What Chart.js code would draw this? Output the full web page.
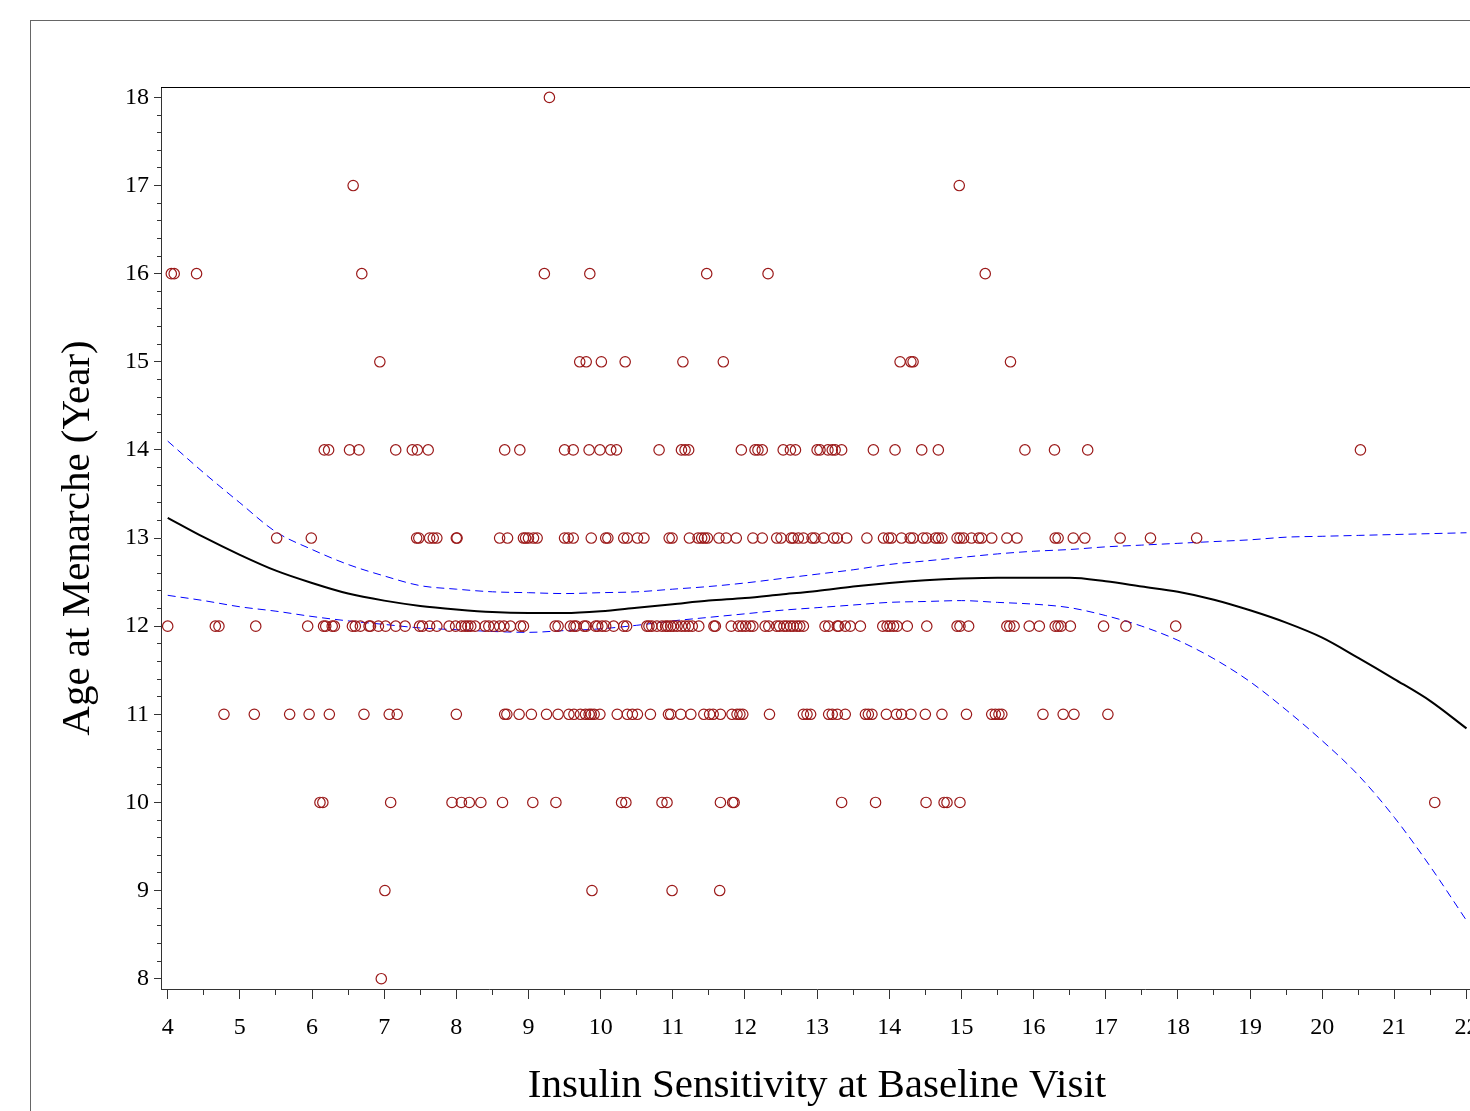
<!DOCTYPE html>
<html lang="en">
<head>
  <meta charset="UTF-8">
  <title>Age at Menarche vs Insulin Sensitivity</title>
  <script src="https://cdn.jsdelivr.net/npm/chart.js"></script>
  <style>
    html, body { margin: 0; padding: 0; background: #fff; overflow: hidden; }
    body { width: 1470px; height: 1111px; position: relative; }
    #frame {
      position: absolute; left: 30px; top: 20px; width: 2000px; height: 2000px;
      border-left: 1px solid #666; border-top: 1px solid #666;
    }
    #graf { position: absolute; left: 0; top: 0; }
  </style>
</head>
<body>
  <div id="frame"></div>
  <canvas id="graf" width="1500" height="1111"></canvas>

  <script>
    /* --- insulin sensitivity of each girl, grouped by age at menarche --- */
    const ages = [8, 9, 10, 11, 12, 13, 14, 15, 16, 17, 18];

    const insulinAt8  = [6.96];
    const insulinAt9  = [7.01, 9.88, 10.99, 11.65];
    const insulinAt10 = [6.11, 6.15, 7.09, 7.94, 8.07, 8.18, 8.34, 8.64, 9.06, 9.38,
                         10.29, 10.35, 10.85, 10.92, 11.66, 11.83, 11.85, 13.34, 13.81,
                         14.51, 14.76, 14.80, 14.98, 21.56];
    const insulinAt11 = [4.78, 5.20, 5.69, 5.96, 6.24, 6.72, 7.07, 7.18, 8.00,
                         8.67, 8.70, 8.87, 9.04, 9.25, 9.41, 9.56, 9.63, 9.72, 9.79, 9.84,
                         9.87, 9.91, 9.99, 10.23, 10.37, 10.44, 10.51, 10.69, 10.94, 10.97,
                         11.11, 11.25, 11.43, 11.51, 11.56, 11.66, 11.82, 11.89, 11.93, 11.97,
                         12.34, 12.81, 12.86, 12.91, 13.16, 13.21, 13.28, 13.39, 13.67, 13.71,
                         13.76, 13.96, 14.10, 14.17, 14.30, 14.50, 14.73, 15.07, 15.42, 15.47,
                         15.52, 15.56, 16.13, 16.41, 16.56, 17.03];
    const insulinAt12 = [4.00, 4.66, 4.71, 5.22, 5.94, 6.16, 6.19, 6.28, 6.31, 6.56,
                         6.60, 6.67, 6.79, 6.81, 6.92, 7.02, 7.16, 7.29, 7.49, 7.53,
                         7.63, 7.73, 7.90, 7.99, 8.07, 8.12, 8.16, 8.20, 8.26, 8.40,
                         8.45, 8.52, 8.60, 8.66, 8.75, 8.89, 8.93, 9.37, 9.41, 9.58,
                         9.63, 9.66, 9.77, 9.80, 9.93, 9.96, 10.02, 10.07, 10.18, 10.32,
                         10.36, 10.64, 10.67, 10.71, 10.78, 10.85, 10.90, 10.93, 10.97, 11.01,
                         11.06, 11.12, 11.17, 11.22, 11.27, 11.36, 11.57, 11.59, 11.81, 11.91,
                         11.96, 12.01, 12.07, 12.11, 12.28, 12.33, 12.44, 12.48, 12.54, 12.58,
                         12.63, 12.67, 12.72, 12.76, 12.81, 13.11, 13.16, 13.28, 13.30, 13.39,
                         13.46, 13.60, 13.91, 13.97, 14.01, 14.06, 14.11, 14.25, 14.52, 14.94,
                         14.98, 15.10, 15.63, 15.67, 15.73, 15.94, 16.08, 16.30, 16.34, 16.38,
                         16.51, 16.97, 17.28, 17.97];
    const insulinAt13 = [5.51, 5.99, 7.45, 7.48, 7.63, 7.68, 7.73, 8.00, 8.01,
                         8.60, 8.71, 8.93, 8.96, 9.00, 9.07, 9.12, 9.50, 9.55, 9.62,
                         9.87, 10.07, 10.10, 10.32, 10.37, 10.51, 10.60, 10.95, 10.99, 11.23,
                         11.35, 11.40, 11.44, 11.48, 11.64, 11.74, 11.88, 12.11, 12.24, 12.44,
                         12.50, 12.64, 12.67, 12.74, 12.81, 12.93, 12.97, 13.09, 13.23, 13.28,
                         13.41, 13.69, 13.92, 13.99, 14.03, 14.17, 14.29, 14.33, 14.47, 14.52,
                         14.64, 14.68, 14.73, 14.94, 14.98, 15.03, 15.14, 15.24, 15.28, 15.42,
                         15.63, 15.77, 16.30, 16.34, 16.55, 16.71, 17.20, 17.62, 18.26];
    const insulinAt14 = [6.17, 6.23, 6.52, 6.65, 7.16, 7.39, 7.46, 7.61,
                         8.67, 8.88, 9.50, 9.62, 9.84, 9.99, 10.14, 10.22, 10.81, 11.12,
                         11.17, 11.22, 11.95, 12.14, 12.18, 12.24, 12.53, 12.63, 12.70,
                         13.00, 13.04, 13.15, 13.21, 13.25, 13.34, 13.78, 14.08, 14.45,
                         14.68, 15.88, 16.29, 16.75, 20.53];
    const insulinAt15 = [6.94, 9.71, 9.80, 10.01, 10.34, 11.14, 11.70, 14.15, 14.30, 14.33, 15.68];
    const insulinAt16 = [4.05, 4.09, 4.40, 6.69, 9.22, 9.85, 11.47, 12.32, 15.33];
    const insulinAt17 = [6.57, 14.97];
    const insulinAt18 = [9.29];

    const insulinByAge = [insulinAt8, insulinAt9, insulinAt10, insulinAt11, insulinAt12,
                          insulinAt13, insulinAt14, insulinAt15, insulinAt16, insulinAt17,
                          insulinAt18];

    /* --- fitted curve and 95% band --- */
    const fitX     = [4, 4.5, 5, 5.5, 6, 6.5, 7, 7.5, 8, 8.5, 9, 9.5, 10, 10.5, 11, 11.5,
                      12, 12.5, 13, 13.5, 14, 14.5, 15, 15.5, 16, 16.5, 17, 17.5, 18, 18.5,
                      19, 19.5, 20, 20.5, 21, 21.5, 22];
    const fitY     = [13.23, 13.01, 12.81, 12.63, 12.49, 12.37, 12.29, 12.23, 12.19, 12.16,
                      12.15, 12.15, 12.17, 12.21, 12.25, 12.29, 12.32, 12.36, 12.40, 12.45,
                      12.49, 12.52, 12.54, 12.55, 12.55, 12.55, 12.51, 12.45, 12.39, 12.30,
                      12.18, 12.04, 11.87, 11.64, 11.40, 11.15, 10.84];
    const upperY   = [14.10, 13.74, 13.40, 13.07, 12.87, 12.70, 12.57, 12.46, 12.42, 12.39,
                      12.38, 12.37, 12.38, 12.39, 12.42, 12.45, 12.49, 12.54, 12.59, 12.64,
                      12.70, 12.74, 12.78, 12.82, 12.85, 12.87, 12.90, 12.92, 12.94, 12.96,
                      12.98, 13.01, 13.02, 13.03, 13.04, 13.05, 13.06];
    const lowerY   = [12.35, 12.29, 12.22, 12.17, 12.11, 12.06, 12.02, 11.98, 11.96, 11.94,
                      11.93, 11.95, 11.97, 12.01, 12.06, 12.10, 12.14, 12.18, 12.21, 12.24,
                      12.27, 12.28, 12.29, 12.27, 12.25, 12.21, 12.12, 12.00, 11.84, 11.63,
                      11.37, 11.05, 10.70, 10.31, 9.83, 9.27, 8.66];

    const xTitle = 'Insulin Sensitivity at Baseline Visit';
    const yTitle = 'Age at Menarche (Year)';

    /* --- armado de datasets --- */
    const puntos = [];
    ages.forEach((age, i) => insulinByAge[i].forEach(x => puntos.push({ x, y: age })));
    const curva = ys => fitX.map((x, i) => ({ x, y: ys[i] }));

    const esEntero = v => Math.abs(v - Math.round(v)) < 1e-6;
    const fuente = { family: '"Liberation Serif", "Times New Roman", serif' };

    // marco superior/derecho del área de gráfico
    const marco = {
      id: 'marco',
      afterDraw(chart) {
        const { ctx, chartArea: a } = chart;
        ctx.save();
        ctx.strokeStyle = '#000';
        ctx.lineWidth = 1;
        ctx.beginPath();
        ctx.moveTo(a.left, a.top + 0.5);
        ctx.lineTo(a.right, a.top + 0.5);
        ctx.lineTo(a.right, a.bottom);
        ctx.stroke();
        ctx.restore();
      }
    };

    new Chart(document.getElementById('graf'), {
      type: 'scatter',
      data: {
        datasets: [
          {
            label: 'Observed',
            data: puntos,
            pointStyle: 'circle',
            pointRadius: 5.2,
            pointBorderWidth: 1.2,
            borderColor: 'rgb(155,25,25)',
            backgroundColor: 'rgba(0,0,0,0)',
            pointBackgroundColor: 'rgba(0,0,0,0)'
          },
          {
            label: 'Fit',
            data: curva(fitY),
            showLine: true,
            pointRadius: 0,
            borderColor: '#000',
            borderWidth: 2,
            cubicInterpolationMode: 'monotone'
          },
          {
            label: 'Upper',
            data: curva(upperY),
            showLine: true,
            pointRadius: 0,
            borderColor: 'rgb(0,0,255)',
            borderWidth: 1,
            borderDash: [8, 5],
            cubicInterpolationMode: 'monotone'
          },
          {
            label: 'Lower',
            data: curva(lowerY),
            showLine: true,
            pointRadius: 0,
            borderColor: 'rgb(0,0,255)',
            borderWidth: 1,
            borderDash: [8, 5],
            cubicInterpolationMode: 'monotone'
          }
        ]
      },
      options: {
        responsive: false,
        animation: false,
        layout: { padding: { left: 0, top: 87, right: 27, bottom: 0 } },
        plugins: {
          legend: { display: false },
          tooltip: { enabled: false }
        },
        scales: {
          x: {
            type: 'linear',
            min: 3.907,
            max: 22.09,
            afterFit: s => { s.height = 122; },
            border: { color: '#333', width: 1 },
            grid: {
              drawOnChartArea: false,
              tickLength: 10,
              tickColor: '#333',
              tickBorderDash: c => (c.tick && esEntero(c.tick.value)) ? [] : [5, 100]
            },
            ticks: {
              stepSize: 0.5,
              includeBounds: false,
              autoSkip: false,
              maxRotation: 0,
              padding: 14,
              color: '#000',
              font: { ...fuente, size: 24 },
              callback: v => esEntero(v) ? String(Math.round(v)) : ''
            },
            title: {
              display: true,
              text: xTitle,
              color: '#000',
              font: { ...fuente, size: 41 },
              padding: { top: 0, bottom: 0 }
            }
          },
          y: {
            type: 'linear',
            min: 7.883,
            max: 18.118,
            afterFit: s => { s.width = 161; },
            border: { color: '#333', width: 1 },
            grid: {
              drawOnChartArea: false,
              tickLength: 7,
              tickColor: '#333',
              tickBorderDash: c => (c.tick && esEntero(c.tick.value)) ? [] : [0, 3, 4, 100]
            },
            ticks: {
              stepSize: 0.2,
              includeBounds: false,
              autoSkip: false,
              padding: 5,
              color: '#000',
              font: { ...fuente, size: 24 },
              callback: v => esEntero(v) ? String(Math.round(v)) : ''
            },
            title: {
              display: true,
              text: yTitle,
              color: '#000',
              font: { ...fuente, size: 41 },
              padding: { top: 54, bottom: 0 }
            }
          }
        }
      },
      plugins: [marco]
    });
  </script>
</body>
</html>
